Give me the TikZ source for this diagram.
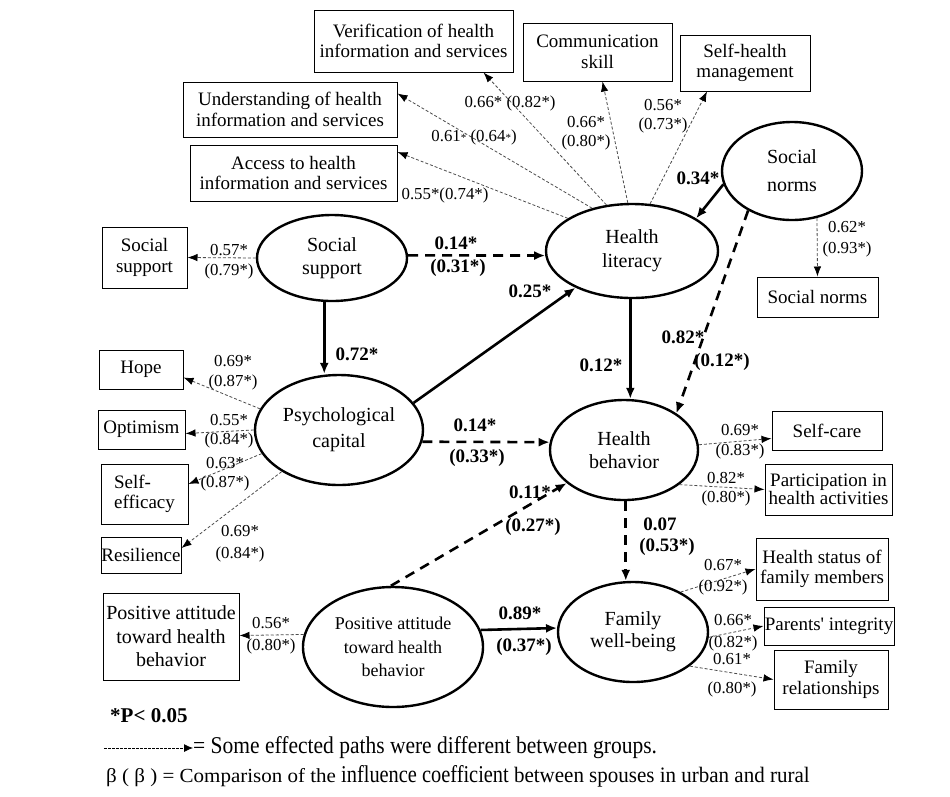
\documentclass[tikz,border=0pt]{standalone}
\usepackage{fontspec}
\usepackage{graphicx}
\setmainfont{Liberation Serif}
\usetikzlibrary{arrows.meta,shapes.geometric}
\begin{document}
\begin{tikzpicture}[x=1pt,y=-1pt,
 lat/.style={ellipse,draw,line width=2.4pt,inner sep=0pt,align=center,font=\fontsize{20}{23}\selectfont},
 obs/.style={draw,line width=1pt,inner sep=0pt,align=center,font=\fontsize{19}{20.5}\selectfont},
 ldg/.style={draw=black!70,line width=0.8pt,dash pattern=on 3pt off 2pt,-{Latex[length=10pt,width=7.5pt,black]}},
 psolid/.style={line width=2.6pt,-{Latex[length=11pt,width=9pt]}},
 pdash/.style={line width=2.6pt,dash pattern=on 10pt off 7pt,-{Latex[length=11pt,width=9pt]}},
 lbl/.style={inner sep=0pt,align=center,font=\fontsize{16.8}{19}\selectfont},
 blbl/.style={inner sep=0pt,font=\bfseries\fontsize{19}{21}\selectfont},
]
\useasboundingbox[fill=white] (0,0) rectangle (950,796);

% latent variables
\node[lat,minimum width=150pt,minimum height=86pt] (ss) at (332,258) {Social\\support};
\node[lat,minimum width=172pt,minimum height=94pt,font=\fontsize{20}{24}\selectfont] (hl) at (632,251) {Health\\literacy};
\node[lat,minimum width=140pt,minimum height=98pt,font=\fontsize{20}{28}\selectfont] (sn) at (792,171) {Social\\norms};
\node[lat,minimum width=168pt,minimum height=110pt,font=\fontsize{20}{26}\selectfont] (pc) at (339,430) {Psychological\\capital};
\node[lat,minimum width=148pt,minimum height=100pt] (hb) at (624,450) {Health\\behavior};
\node[lat,minimum width=180pt,minimum height=120pt,font=\fontsize{18}{23.5}\selectfont] (pa) at (393,647) {Positive attitude\\toward health\\behavior};
\node[lat,minimum width=150pt,minimum height=100pt,font=\fontsize{20}{22}\selectfont] (fw) at (633,632) {Family\\well-being};

% observed variables
\node[obs,minimum width=199pt,minimum height=62pt] (verif) at (413.5,41) {Verification of health\\information and services};
\node[obs,minimum width=149pt,minimum height=58pt] (comm) at (597.5,52) {Communication\\skill};
\node[obs,minimum width=130pt,minimum height=56pt] (shm) at (745,63) {Self-health\\management};
\node[obs,minimum width=214pt,minimum height=55pt] (und) at (290,109.5) {Understanding of health\\information and services};
\node[obs,minimum width=207pt,minimum height=56pt] (acc) at (293.5,173) {Access to health\\information and services};
\node[obs,minimum width=85pt,minimum height=61pt] (ssb) at (144.5,257.5) {Social\\support};
\node[obs,minimum width=121pt,minimum height=40pt] (snb) at (817.5,297) {Social norms};
\node[obs,minimum width=84pt,minimum height=39pt] (hope) at (141,369.5) {Hope};
\node[obs,minimum width=87pt,minimum height=39pt] (opt) at (141.5,429.5) {Optimism};
\node[obs,minimum width=87pt,minimum height=60pt,align=left] (se) at (144.5,494) {Self-\\efficacy};
\node[obs,minimum width=80pt,minimum height=36pt] (res) at (141,555) {Resilience};
\node[obs,minimum width=136pt,minimum height=87pt,font=\fontsize{20}{23.5}\selectfont] (pab) at (171,636.5) {Positive attitude\\toward health\\behavior};
\node[obs,minimum width=110pt,minimum height=39pt] (sc) at (827,430.5) {Self-care};
\node[obs,minimum width=127pt,minimum height=51pt,font=\fontsize{19}{18.5}\selectfont] (part) at (828.5,489.5) {Participation in\\health activities};
\node[obs,minimum width=132pt,minimum height=62pt] (hs) at (822,569) {Health status of\\family members};
\node[obs,minimum width=130pt,minimum height=38pt] (pi) at (829,626) {Parents\textquotesingle\ integrity};
\node[obs,minimum width=114pt,minimum height=59pt] (fr) at (831,679.5) {Family\\relationships};

% loadings
\draw[ldg] (hl.119.5) -- ([xshift=70pt]verif.south);
\draw[ldg] (hl.95) -- ([xshift=5pt]comm.south);
\draw[ldg] (hl.69) -- ([xshift=-38pt]shm.south);
\draw[ldg] (hl.133) -- ([yshift=16pt]und.east);
\draw[ldg] (hl.153) -- ([yshift=21pt]acc.east);
\draw[ldg] (ss.west) -- (ssb.east);
\draw[ldg] (sn.-62) -- (snb.north);
\draw[ldg] (pc.165) -- ([yshift=-8pt]hope.east);
\draw[ldg] (pc.west) -- ([yshift=-4pt]opt.east);
\draw[ldg] (pc.197) -- ([yshift=10pt]se.east);
\draw[ldg] (pc.216) -- ([yshift=7pt]res.east);
\draw[ldg] (pa.172) -- ([yshift=1pt]pab.east);
\draw[ldg] (hb.4) -- ([yshift=-8pt]sc.west);
\draw[ldg] (hb.-32) -- (part.west);
\draw[ldg] (fw.40) -- (hs.west);
\draw[ldg] (fw.-4) -- (pi.west);
\draw[ldg] (fw.-31) -- (fr.west);

% loading labels
\node[lbl] (l1) at (510,103) {0.66* (0.82*)};
\node[lbl] (l2) at (474,137) {0.61{\fontsize{11}{12}\selectfont*} (0.64{\fontsize{11}{12}\selectfont*})};
\node[lbl] (l3) at (445,195) {0.55*(0.74*)};
\node[lbl] (l4) at (586,133.5) {0.66*\\(0.80*)};
\node[lbl] (l5) at (663,116) {0.56*\\(0.73*)};
\node[lbl,font=\fontsize{16.8}{20}\selectfont] (l6) at (229,262) {0.57*\\(0.79*)};
\node[lbl,font=\fontsize{16.8}{21}\selectfont] (l7) at (847,239) {0.62*\\(0.93*)};
\node[lbl,font=\fontsize{16.8}{20}\selectfont] (l8) at (233,373) {0.69*\\(0.87*)};
\node[lbl] (l9) at (229,431) {0.55*\\(0.84*)};
\node[lbl] (l10) at (225,474.5) {0.63*\\(0.87*)};
\node[lbl,font=\fontsize{16.8}{22}\selectfont] (l11) at (240,544) {0.69*\\(0.84*)};
\node[lbl,font=\fontsize{16.8}{22}\selectfont] (l12) at (271,636) {0.56*\\(0.80*)};
\node[lbl,font=\fontsize{16.8}{20}\selectfont] (l13) at (740,442) {0.69*\\(0.83*)};
\node[lbl] (l14) at (726,489) {0.82*\\(0.80*)};
\node[lbl,font=\fontsize{16.8}{21}\selectfont] (l15) at (723,577.5) {0.67*\\(0.92*)};
\node[lbl,font=\fontsize{16.8}{22}\selectfont] (l16) at (733,633) {0.66*\\(0.82*)};
\node[lbl,font=\fontsize{16.8}{29}\selectfont] (l17) at (732,675.5) {0.61*\\(0.80*)};

% structural paths
\draw[pdash] (ss.2) -- (hl.183);
\draw[psolid] (ss.260) -- (ss.260 |- pc.north);
\draw[psolid] (pc.20) -- (hl.213);
\draw[pdash] (pc.-8) -- (hb.174);
\draw[psolid] (hl.268) -- (hl.268 |- hb.north);
\draw[psolid] (sn.191) -- (hl.27);
\draw[pdash] (sn.222) -- (hb.35);
\draw[pdash] (pa.92) -- (hb.210);
\draw[pdash] (hb.272) -- (hb.272 |- fw.north);
\draw[psolid] (pa.11) -- (fw.177);

% path labels
\node[blbl] (b1) at (456,243) {0.14*};
\node[blbl] (b2) at (458,268) {(0.31*)};
\node[blbl] (b3) at (357,354) {0.72*};
\node[blbl] (b4) at (530,291) {0.25*};
\node[blbl] (b5) at (601,365) {0.12*};
\node[blbl] (b6) at (698,178) {0.34*};
\node[blbl] (b7) at (683,337) {0.82*};
\node[blbl] (b8) at (722,362) {(0.12*)};
\node[blbl] (b9) at (475,425) {0.14*};
\node[blbl] (b10) at (477,458) {(0.33*)};
\node[blbl] (b11) at (530,492) {0.11*};
\node[blbl] (b12) at (533,527) {(0.27*)};
\node[blbl] (b13) at (660,524) {0.07};
\node[blbl] (b14) at (667,547) {(0.53*)};
\node[blbl] (b15) at (520,613) {0.89*};
\node[blbl] (b16) at (524,647) {(0.37*)};

% legend
\node[inner sep=0pt,anchor=west,font=\bfseries\fontsize{21}{22}\selectfont] (pval) at (110,716) {*P< 0.05};
\coordinate (lg1) at (104,748);
\coordinate (lg2) at (193,748);
\draw[line width=0.8pt,dash pattern=on 2.5pt off 1.5pt,-{Latex[length=9pt,width=8pt]}] (lg1) -- (lg2);
\node[inner sep=0pt,anchor=west,font=\fontsize{21.5}{24}\selectfont] (lgt) at (lg2) {\scalebox{1}[1.12]{= Some effected paths were different between groups.}};
\node[inner sep=0pt,anchor=west,font=\fontsize{21}{24}\selectfont] (lgb) at (106,776) {\scalebox{1}[0.95]{β ( β ) = Comparison of the} \scalebox{0.97}[1.15]{influence coefficient} \scalebox{1}[1.05]{between spouses in urban and rural}};
\end{tikzpicture}
\end{document}
